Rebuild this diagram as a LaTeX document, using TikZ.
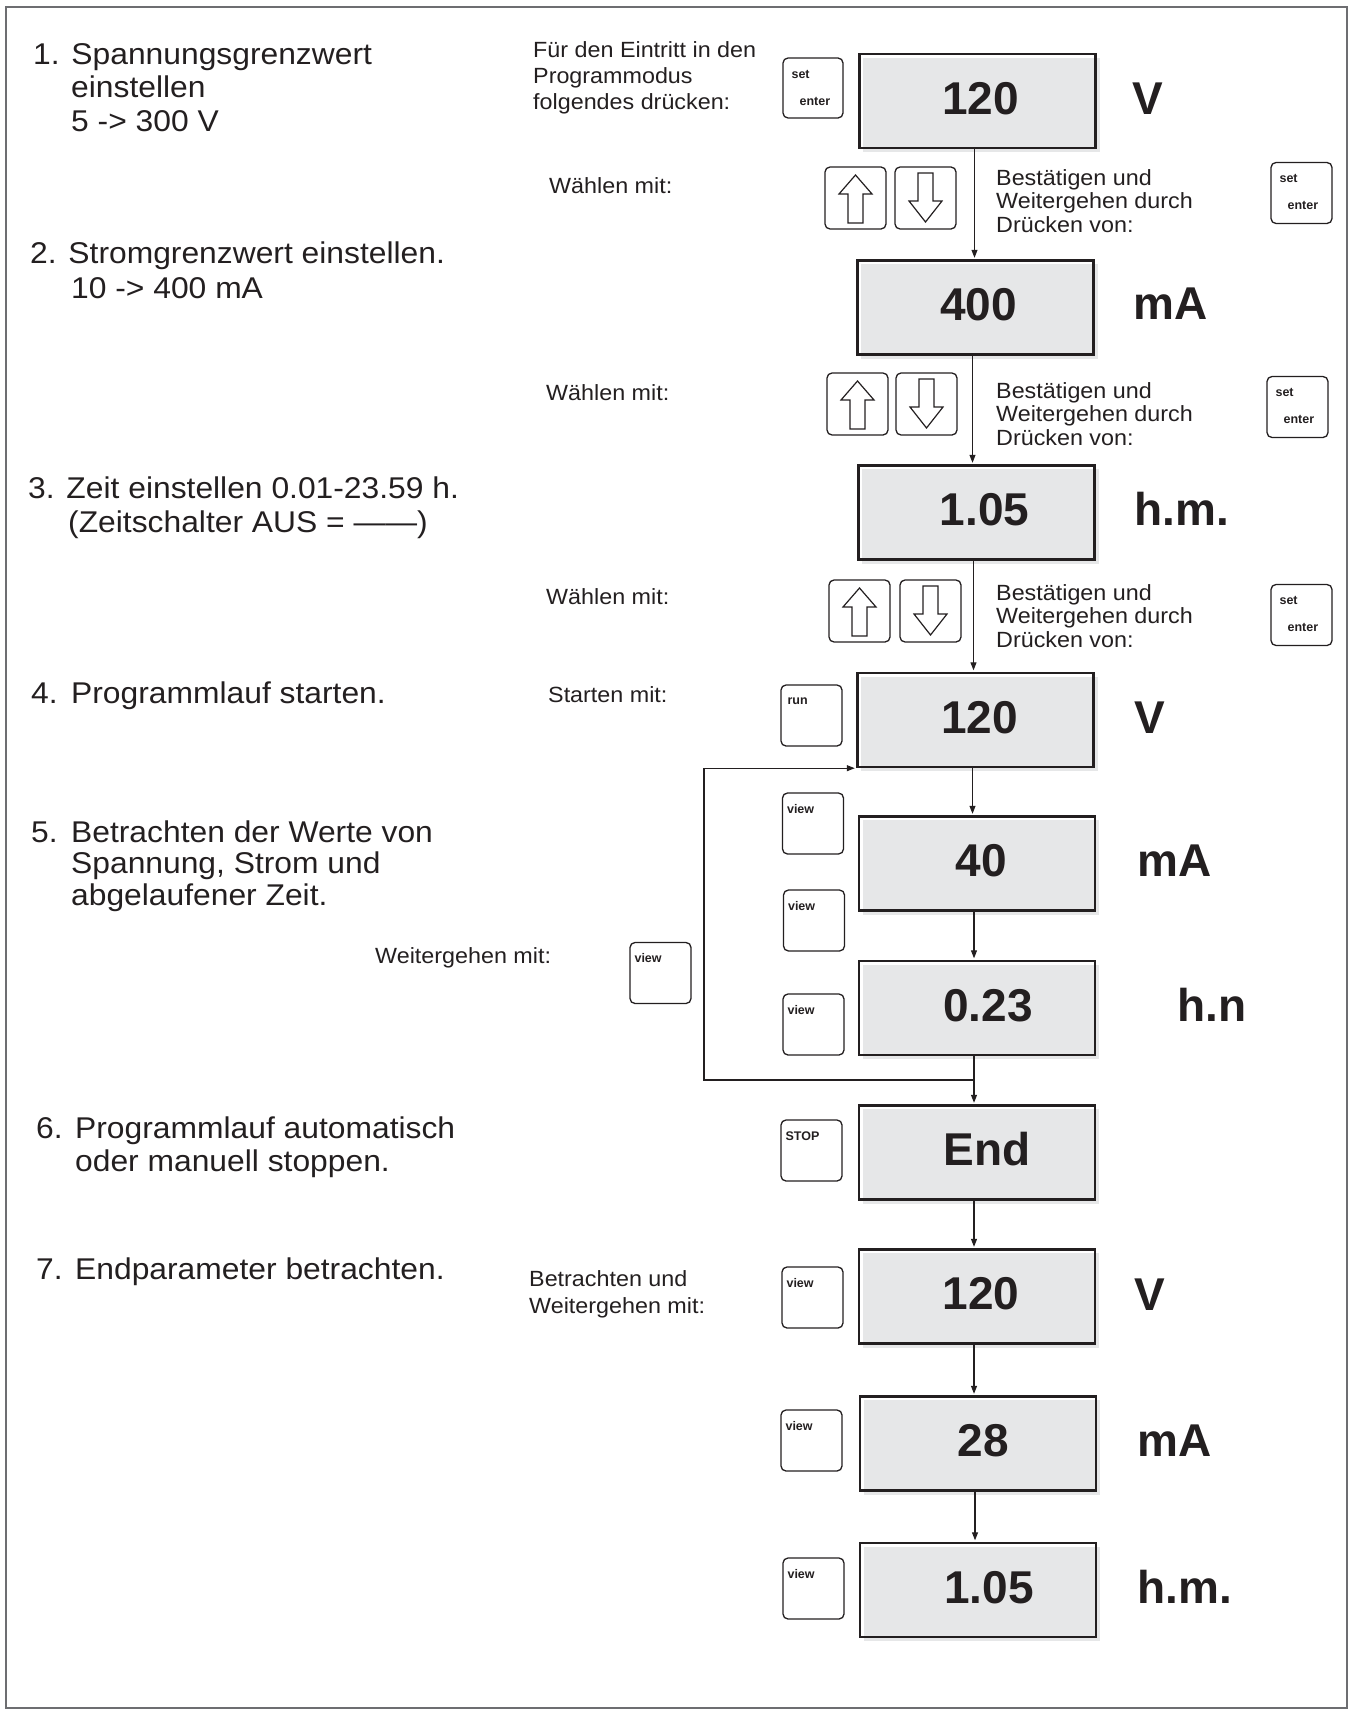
\documentclass[tikz,border=0pt]{standalone}
\usepackage{fontspec}
\setmainfont{Liberation Sans}
\newfontfamily\txtf[FakeStretch=1.06]{Liberation Sans}
\usetikzlibrary{arrows.meta,backgrounds}
\definecolor{ink}{HTML}{231F20}
\definecolor{lcd}{HTML}{E6E7E8}
\definecolor{framec}{HTML}{6D6E71}
\newcommand\txtline[4]{\node[#1] (#2) at (#3) {#4};}
\begin{document}
\begin{tikzpicture}[x=1pt,y=-1pt,
  lefttxt/.style={font=\txtf\fontsize{30}{36}\selectfont, text=ink, inner sep=0pt, anchor=base west},
  midtxt/.style={font=\txtf\fontsize{22}{26}\selectfont, text=ink, inner sep=0pt, anchor=base west},
  keytxt/.style={font=\fontsize{12.5}{14}\selectfont\bfseries, text=ink, inner sep=0pt, anchor=base west},
  valtxt/.style={font=\fontsize{46}{50}\selectfont\bfseries, text=ink, inner sep=0pt, anchor=base},
  unittxt/.style={font=\fontsize{46}{50}\selectfont\bfseries, text=ink, inner sep=0pt, anchor=base west},
  disp/.style={draw=ink, line width=2.4pt, minimum width=236pt, minimum height=94pt, inner sep=0pt},
  keybox/.style={draw=ink, line width=1.3pt, rounded corners=5pt, minimum width=61pt, minimum height=61pt, inner sep=0pt},
  conn/.style={draw=ink, line width=1.1pt, -{Triangle[length=8pt,width=6pt]}, shorten >=1.5pt},
  plainline/.style={draw=ink, line width=1.1pt},
  uparr/.pic={\draw[ink, line width=1.2pt, line join=miter] (0,-23) -- (16.5,-4) -- (7.5,-4) -- (7.5,25) -- (-7.5,25) -- (-7.5,-4) -- (-16.5,-4) -- cycle;},
  dnarr/.pic={\draw[ink, line width=1.2pt, line join=miter] (0,24) -- (16.5,3) -- (7.5,3) -- (7.5,-25) -- (-7.5,-25) -- (-7.5,3) -- (-16.5,3) -- cycle;}
]
\useasboundingbox (0,0) rectangle (1350,1710);
\draw[framec, line width=1.5pt] (6,7) rectangle (1347,1708);

% ---------- left column ----------
\txtline{lefttxt}{l1a}{33,64}{1. Spannungsgrenzwert}
\txtline{lefttxt}{l1b}{71,97}{einstellen}
\txtline{lefttxt}{l1c}{71,131}{5 -> 300 V}
\txtline{lefttxt}{l2a}{30,263}{2. Stromgrenzwert einstellen.}
\txtline{lefttxt}{l2b}{71,298}{10 -> 400 mA}
\txtline{lefttxt}{l3a}{28,498}{3. Zeit einstellen 0.01-23.59 h.}
\txtline{lefttxt}{l3b}{68,532}{(Zeitschalter AUS = ——)}
\txtline{lefttxt}{l4a}{31,703}{\makebox[40pt][l]{4.}Programmlauf starten.}
\txtline{lefttxt}{l5a}{31,842}{\makebox[40pt][l]{5.}Betrachten der Werte von}
\txtline{lefttxt}{l5b}{71,873}{Spannung, Strom und}
\txtline{lefttxt}{l5c}{71,905}{abgelaufener Zeit.}
\txtline{lefttxt}{l6a}{36,1138}{\makebox[39pt][l]{6.}Programmlauf automatisch}
\txtline{lefttxt}{l6b}{75,1171}{oder manuell stoppen.}
\txtline{lefttxt}{l7a}{36,1279}{\makebox[39pt][l]{7.}Endparameter betrachten.}

% ---------- middle texts ----------
\txtline{midtxt}{m1a}{533,57}{Für den Eintritt in den}
\txtline{midtxt}{m1b}{533,83}{Programmodus}
\txtline{midtxt}{m1c}{533,109}{folgendes drücken:}
\txtline{midtxt}{w1}{549,193}{Wählen mit:}
\txtline{midtxt}{w2}{546,400}{Wählen mit:}
\txtline{midtxt}{w3}{546,604}{Wählen mit:}
\txtline{midtxt}{b1a}{996,185}{Bestätigen und}
\txtline{midtxt}{b1b}{996,208}{Weitergehen durch}
\txtline{midtxt}{b1c}{996,232}{Drücken von:}
\txtline{midtxt}{b2a}{996,398}{Bestätigen und}
\txtline{midtxt}{b2b}{996,421}{Weitergehen durch}
\txtline{midtxt}{b2c}{996,445}{Drücken von:}
\txtline{midtxt}{b3a}{996,600}{Bestätigen und}
\txtline{midtxt}{b3b}{996,623}{Weitergehen durch}
\txtline{midtxt}{b3c}{996,647}{Drücken von:}
\txtline{midtxt}{st}{548,702}{Starten mit:}
\txtline{midtxt}{wg}{375,963}{Weitergehen mit:}
\txtline{midtxt}{bw1}{529,1286}{Betrachten und}
\txtline{midtxt}{bw2}{529,1313}{Weitergehen mit:}

% ---------- displays ----------
\node[disp] (d1) at (977.5,101) {};
\node[disp] (d2) at (975.5,307.5) {};
\node[disp] (d3) at (976.5,512.5) {};
\node[disp] (d4) at (975.5,720) {};
\node[disp] (d5) at (977,863.5) {};
\node[disp] (d6) at (977,1008) {};
\node[disp] (d7) at (977,1152.5) {};
\node[disp] (d8) at (977,1296.5) {};
\node[disp] (d9) at (978,1443.5) {};
\node[disp] (d10) at (978,1590) {};
\begin{scope}[on background layer]
\foreach \d in {d1,d2,d3,d4,d5,d6,d7,d8,d9,d10}
  \fill[lcd] ([shift={(5,5)}]\d.north west) rectangle ([shift={(3,3)}]\d.south east);
\end{scope}

\node[valtxt] (v1) at ([shift={(3,13)}]d1.center) {120};
\node[valtxt] (v2) at ([shift={(3,13)}]d2.center) {400};
\node[valtxt] (v3) at ([shift={(8,13)}]d3.center) {1.05};
\node[valtxt] (v4) at ([shift={(4,13)}]d4.center) {120};
\node[valtxt] (v5) at ([shift={(4,13)}]d5.center) {40};
\node[valtxt] (v6) at ([shift={(11,13)}]d6.center) {0.23};
\node[valtxt] (v7) at ([shift={(10,13)}]d7.center) {End};
\node[valtxt] (v8) at ([shift={(4,13)}]d8.center) {120};
\node[valtxt] (v9) at ([shift={(5,13)}]d9.center) {28};
\node[valtxt] (v10) at ([shift={(11,13)}]d10.center) {1.05};

\node[unittxt] (un1) at (1132,114) {V};
\node[unittxt] (un2) at (1133,319) {mA};
\node[unittxt] (un3) at (1134,525) {h.m.};
\node[unittxt] (un4) at (1134,733) {V};
\node[unittxt] (un5) at (1137,876) {mA};
\node[unittxt] (un6) at (1177,1021) {h.n};
\node[unittxt] (un8) at (1134,1310) {V};
\node[unittxt] (un9) at (1137,1456) {mA};
\node[unittxt] (un10) at (1137,1603) {h.m.};

% ---------- keys ----------
\node[keybox, minimum width=60pt, minimum height=60pt] (k1) at (813,88) {};
\node[keybox] (s1) at (1301.5,193) {};
\node[keybox] (s2) at (1297.5,407) {};
\node[keybox] (s3) at (1301.5,615) {};
\foreach \k in {k1,s1,s2,s3}{
  \node[keytxt] (\k set) at ([shift={(9,21)}]\k.north west) {set};
  \node[keytxt] (\k ent) at ([shift={(17,48)}]\k.north west) {enter};
}
\node[keybox, minimum height=62pt] (u1) at (855.5,198) {};
\node[keybox, minimum height=62pt] (n1) at (925.5,198) {};
\node[keybox, minimum height=62pt] (u2) at (857.5,404) {};
\node[keybox, minimum height=62pt] (n2) at (926.5,404) {};
\node[keybox, minimum height=62pt] (u3) at (859.5,611) {};
\node[keybox, minimum height=62pt] (n3) at (930.5,611) {};
\pic (pu1) at (u1.center) {uparr};
\pic (pu2) at (u2.center) {uparr};
\pic (pu3) at (u3.center) {uparr};
\pic (pn1) at (n1.center) {dnarr};
\pic (pn2) at (n2.center) {dnarr};
\pic (pn3) at (n3.center) {dnarr};

\node[keybox] (kr) at (811.5,715.5) {};
\node[keytxt] (krt) at ([shift={(7,20)}]kr.north west) {run};
\node[keybox] (ks) at (811.5,1150.5) {};
\node[keytxt] (kst) at ([shift={(5,21)}]ks.north west) {STOP};
\node[keybox] (kv1) at (813,823.5) {};
\node[keybox] (kv2) at (814,920.5) {};
\node[keybox] (kvl) at (660.5,973) {};
\node[keybox] (kv3) at (813.5,1024.5) {};
\node[keybox] (kv4) at (812.5,1297.5) {};
\node[keybox] (kv5) at (811.5,1440.5) {};
\node[keybox] (kv6) at (813.5,1588.5) {};
\foreach \k in {kv1,kv2,kvl,kv3,kv4,kv5,kv6}
  \node[keytxt] (\k t) at ([shift={(5,21)}]\k.north west) {view};

% ---------- connectors ----------
\foreach \a/\b in {d1/d2,d2/d3,d3/d4,d4/d5,d5/d6,d7/d8,d8/d9,d9/d10}
  \draw[conn] ([xshift=-3pt]\a.south) -- ([xshift=-3pt]\a.south |- \b.north);
\coordinate (j) at (974,1080);
\coordinate (lp) at (704,1080);
\draw[plainline] ([xshift=-3pt]d6.south) -- (j);
\draw[conn] (j) -- (j |- d7.north);
\draw[conn] (j) -- (lp) -- (lp |- d4.south west) -- (d4.south west);
\end{tikzpicture}
\end{document}
